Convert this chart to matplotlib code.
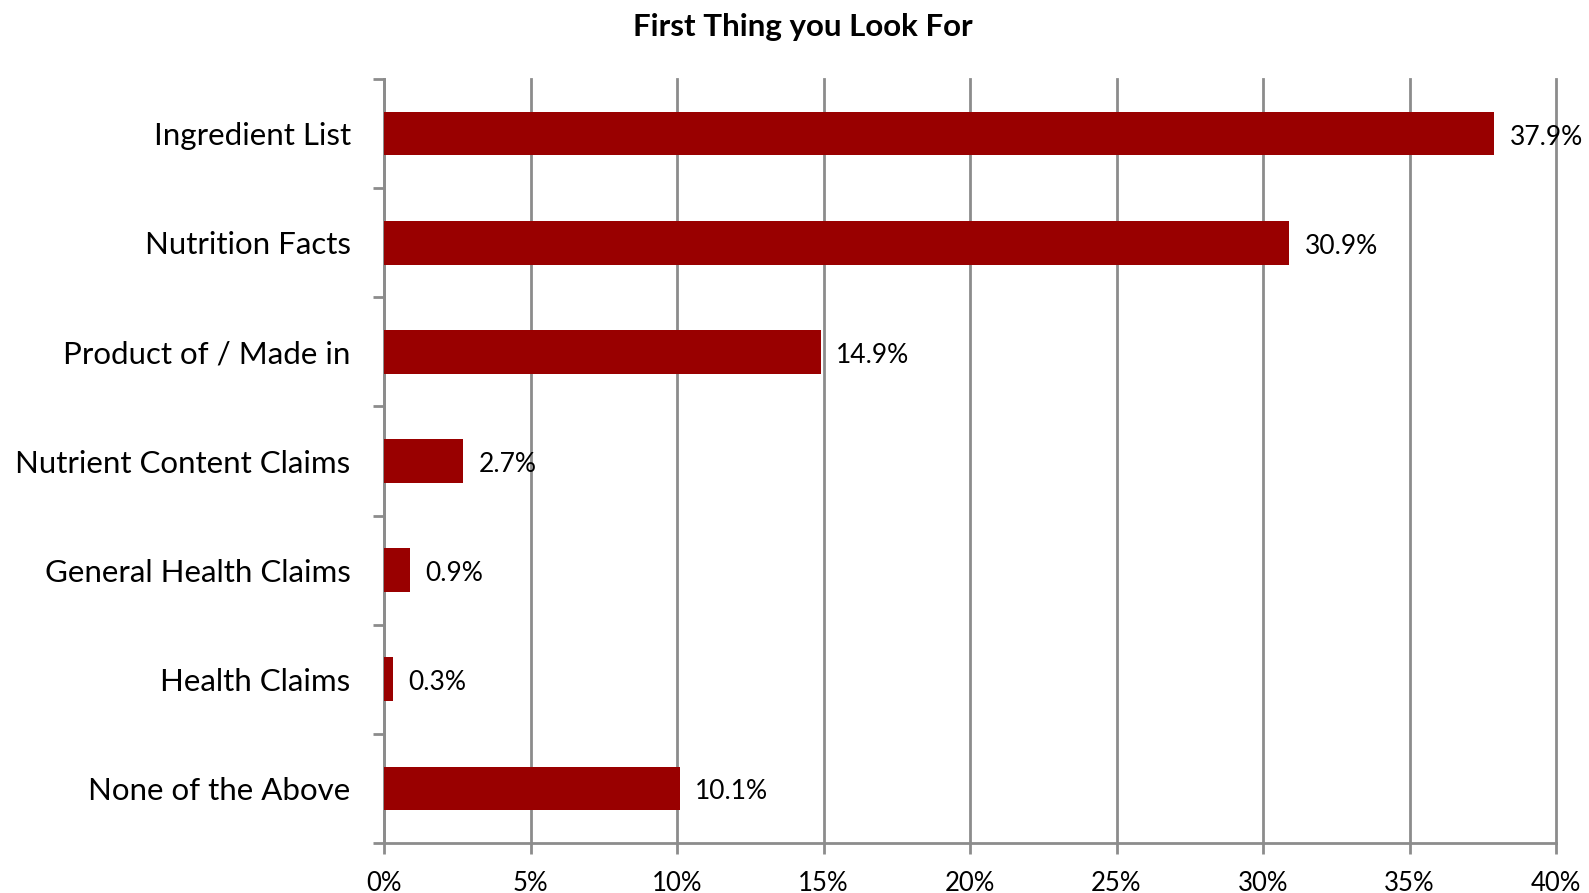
import matplotlib
matplotlib.use("Agg")
import matplotlib.pyplot as plt
from matplotlib.ticker import MultipleLocator, FuncFormatter
import numpy as np

categories = ["Ingredient List", "Nutrition Facts", "Product of / Made in",
              "Nutrient Content Claims", "General Health Claims",
              "Health Claims", "None of the Above"]
values = [37.9, 30.9, 14.9, 2.7, 0.9, 0.3, 10.1]
title = "First Thing you Look For"

plt.rcParams["font.family"] = ["Lato", "DejaVu Sans"]

fig = plt.figure(figsize=(15.89, 8.93), dpi=100)
ax = fig.add_axes([384 / 1589, 50 / 893, (1556 - 384) / 1589, (843 - 79) / 893])

grid_color = "#8c8c8c"
bar_color = "#990000"

y = np.arange(len(categories))
ax.barh(y, values, height=0.4, color=bar_color, zorder=3)

ax.set_xlim(0, 40)
ax.set_ylim(len(categories) - 0.5, -0.5)
ax.xaxis.set_major_locator(MultipleLocator(5))
ax.xaxis.set_major_formatter(FuncFormatter(lambda v, p: f"{v:.0f}%"))

ax.grid(axis="x", color=grid_color, linewidth=2, zorder=0)
ax.set_axisbelow(True)
for gl in ax.get_xgridlines():
    gl.set_clip_on(False)

for side in ["top", "right"]:
    ax.spines[side].set_visible(False)
for side in ["left", "bottom"]:
    ax.spines[side].set_color(grid_color)
    ax.spines[side].set_linewidth(2)

# category labels centered on bars, ticks at the boundaries between categories
ax.set_yticks(y)
ax.set_yticklabels(categories, fontsize=22.5)
ax.tick_params(axis="y", length=0, pad=24)
ax.set_yticks(np.arange(len(categories) + 1) - 0.5, minor=True)
ax.tick_params(axis="y", which="minor", length=8, width=2, color=grid_color)
ax.tick_params(axis="x", length=8, width=2, color=grid_color, labelsize=18.5, pad=12)

for yi, v in zip(y, values):
    ax.annotate(f"{v}%", (v, yi), xytext=(11, -2.5), textcoords="offset points",
                va="center", ha="left", fontsize=19, color="black", zorder=4)

fig.text(803 / 1589, 1 - 27 / 893, title, ha="center", va="center",
         fontsize=22.5, fontweight="bold")

fig.savefig("out.png", dpi=100, facecolor="white")
